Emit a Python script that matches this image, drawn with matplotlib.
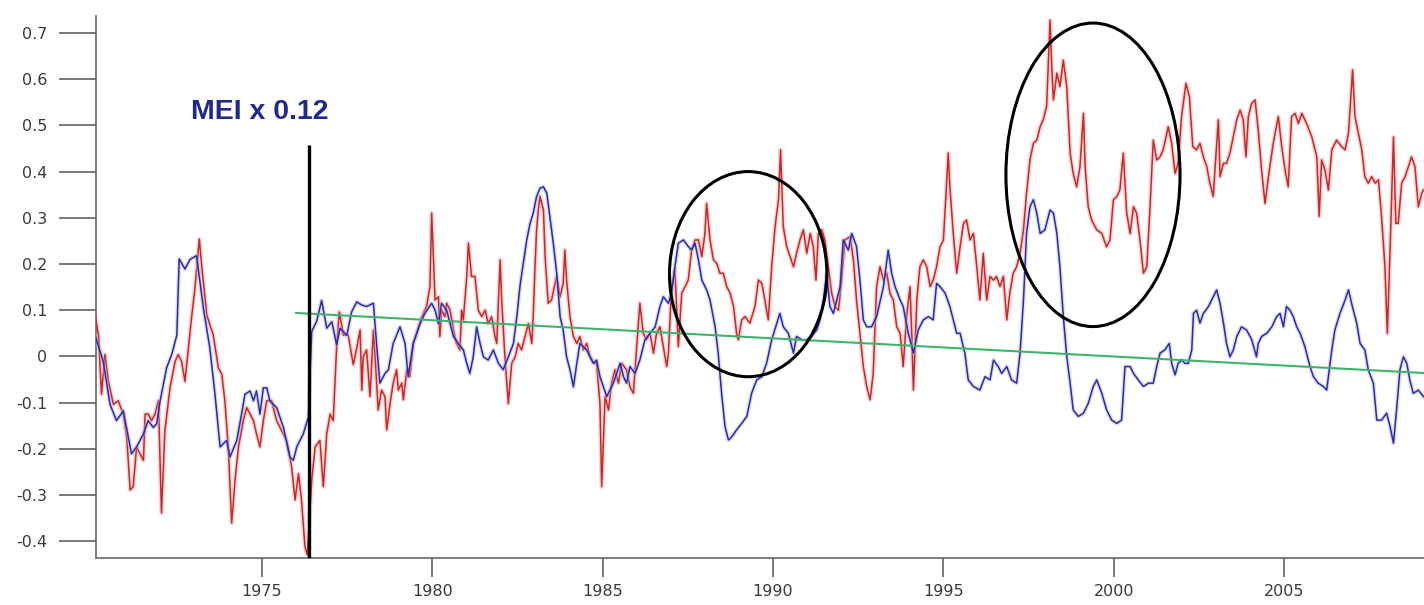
import matplotlib
matplotlib.use("Agg")
import matplotlib.pyplot as plt
from matplotlib.patches import Ellipse

# ---------------- data ----------------
red_years = [
    1970.10, 1970.20, 1970.29, 1970.39, 1970.49, 1970.64, 1970.78, 1970.93, 1971.03, 1971.13,
    1971.22, 1971.32, 1971.42, 1971.52, 1971.57, 1971.66, 1971.76, 1971.86, 1971.96, 1972.05,
    1972.15, 1972.30, 1972.45, 1972.54, 1972.64, 1972.74, 1972.84, 1972.94, 1973.03, 1973.16,
    1973.23, 1973.38, 1973.57, 1973.72, 1973.82, 1973.91, 1974.01, 1974.11, 1974.21, 1974.31,
    1974.45, 1974.55, 1974.65, 1974.75, 1974.84, 1974.94, 1975.04, 1975.14, 1975.28, 1975.43,
    1975.58, 1975.72, 1975.87, 1975.97, 1976.07, 1976.16, 1976.26, 1976.33, 1976.46, 1976.56,
    1976.70, 1976.80, 1976.90, 1977.00, 1977.09, 1977.19, 1977.27, 1977.39, 1977.53, 1977.68,
    1977.78,
    1977.88, 1977.93, 1977.97, 1978.07, 1978.17, 1978.27, 1978.32, 1978.41, 1978.51, 1978.61,
    1978.66, 1978.76, 1978.85, 1978.95, 1979.00, 1979.10, 1979.15, 1979.25, 1979.34, 1979.44,
    1979.54, 1979.69, 1979.83, 1979.93, 1979.98, 1980.03, 1980.08, 1980.18, 1980.22, 1980.27,
    1980.37, 1980.42, 1980.52, 1980.62, 1980.71, 1980.81, 1980.86, 1980.91, 1981.01, 1981.06,
    1981.15, 1981.25, 1981.35, 1981.45, 1981.55, 1981.64, 1981.74, 1981.84, 1981.89, 1981.99,
    1982.03, 1982.13, 1982.23, 1982.33, 1982.43, 1982.52, 1982.62, 1982.72, 1982.82, 1982.92,
    1982.96, 1983.01, 1983.06, 1983.11, 1983.16, 1983.26, 1983.31, 1983.40, 1983.50, 1983.60,
    1983.65, 1983.75, 1983.84, 1983.89, 1983.94, 1984.04, 1984.14, 1984.24, 1984.33, 1984.43,
    1984.53, 1984.63, 1984.73, 1984.82, 1984.92, 1984.97, 1985.07, 1985.17, 1985.26, 1985.36,
    1985.46, 1985.56, 1985.70,
    1985.80, 1985.90, 1986.00, 1986.09, 1986.19, 1986.29, 1986.39, 1986.49, 1986.58, 1986.68,
    1986.78, 1986.88, 1986.93, 1987.02, 1987.12, 1987.22, 1987.32, 1987.42, 1987.51, 1987.61,
    1987.71, 1987.81, 1987.91, 1988.00, 1988.05, 1988.15, 1988.25, 1988.35, 1988.44, 1988.54,
    1988.64, 1988.74, 1988.84, 1988.93, 1988.98, 1989.08, 1989.18, 1989.32, 1989.47, 1989.57,
    1989.67, 1989.76, 1989.86, 1989.96, 1990.06, 1990.16, 1990.22, 1990.30, 1990.40, 1990.50,
    1990.60, 1990.69, 1990.79, 1990.89, 1990.99, 1991.09, 1991.18, 1991.26, 1991.33, 1991.43,
    1991.52, 1991.62, 1991.72, 1991.82, 1991.92, 1992.01, 1992.11, 1992.26, 1992.36, 1992.45,
    1992.55, 1992.65, 1992.75, 1992.85, 1992.94, 1993.04, 1993.14, 1993.24, 1993.34, 1993.43,
    1993.53, 1993.63,
    1993.73, 1993.82, 1993.92, 1994.02, 1994.07, 1994.12, 1994.22, 1994.31, 1994.41, 1994.51,
    1994.61, 1994.70, 1994.80, 1994.90, 1995.00, 1995.10, 1995.14, 1995.19, 1995.29, 1995.39,
    1995.49, 1995.59, 1995.68, 1995.78, 1995.88, 1995.98, 1996.07, 1996.17, 1996.27, 1996.37,
    1996.47, 1996.56, 1996.66, 1996.76, 1996.86, 1996.95, 1997.05, 1997.15, 1997.25, 1997.35,
    1997.44, 1997.54, 1997.64, 1997.74, 1997.84, 1997.93, 1998.03, 1998.13, 1998.18, 1998.23,
    1998.33, 1998.42, 1998.52, 1998.62, 1998.72, 1998.81, 1998.91, 1999.01, 1999.11, 1999.16,
    1999.25, 1999.35, 1999.50, 1999.65, 1999.79, 1999.89, 1999.99, 2000.09, 2000.18, 2000.28,
    2000.38, 2000.48, 2000.58, 2000.67, 2000.77, 2000.87, 2000.97, 2001.06, 2001.16, 2001.26,
    2001.36, 2001.45, 2001.60, 2001.70, 2001.80, 2001.89, 2001.99, 2002.12, 2002.22, 2002.32,
    2002.43, 2002.53, 2002.63, 2002.73, 2002.82, 2002.92, 2002.97, 2003.07, 2003.12, 2003.22,
    2003.31, 2003.41, 2003.51, 2003.61, 2003.71, 2003.80, 2003.88, 2003.95, 2004.05, 2004.15,
    2004.24, 2004.34, 2004.44, 2004.54, 2004.68, 2004.83, 2004.93, 2005.03, 2005.12, 2005.22,
    2005.32, 2005.42, 2005.52, 2005.66, 2005.81, 2005.96, 2006.03, 2006.10, 2006.20, 2006.30,
    2006.40, 2006.54, 2006.69, 2006.79, 2006.89, 2007.01, 2007.08, 2007.18, 2007.28, 2007.37,
    2007.47, 2007.57, 2007.67, 2007.77, 2007.86, 2007.96, 2008.03, 2008.11, 2008.21, 2008.28,
    2008.35, 2008.45, 2008.55, 2008.65, 2008.74, 2008.84, 2008.94, 2009.04, 2009.09,
]
red_vals = [
    0.089, 0.046, -0.082, 0.004, -0.054, -0.104, -0.096, -0.125, -0.175, -0.289,
    -0.282, -0.196, -0.211, -0.225, -0.125, -0.125, -0.139, -0.125, -0.096, -0.339,
    -0.161, -0.068, -0.011, 0.004, -0.011, -0.054, 0.018, 0.089, 0.146, 0.254,
    0.196, 0.089, 0.046, -0.025, -0.039, -0.096, -0.196, -0.361, -0.268, -0.196,
    -0.139, -0.111, -0.125, -0.139, -0.168, -0.196, -0.139, -0.096, -0.096, -0.139,
    -0.161, -0.182, -0.239, -0.311, -0.254, -0.311, -0.411, -0.430, -0.268, -0.196,
    -0.182, -0.282, -0.168, -0.125, -0.139, 0.018, 0.096, 0.046, 0.046, -0.018,
    0.018,
    0.057, -0.073, -0.001, 0.014, -0.087, 0.057, -0.001, -0.116, -0.073, -0.087,
    -0.159, -0.102, -0.058, -0.029, -0.073, -0.058, -0.094, -0.029, -0.044, 0.028,
    0.050, 0.086, 0.108, 0.151, 0.310, 0.216, 0.122, 0.129, 0.043, 0.100,
    0.086, 0.115, 0.100, 0.057, 0.028, 0.014, 0.100, 0.079, 0.173, 0.245,
    0.173, 0.173, 0.100, 0.086, 0.100, 0.071, 0.086, 0.043, 0.028, 0.209,
    0.129, -0.001, -0.102, -0.015, -0.001, 0.028, 0.014, 0.043, 0.071, 0.028,
    0.086, 0.187, 0.274, 0.317, 0.346, 0.317, 0.216, 0.115, 0.122, 0.158,
    0.173, 0.129, 0.158, 0.230, 0.165, 0.086, 0.043, 0.028, 0.043, 0.014,
    0.028, -0.001, -0.015, -0.015, -0.102, -0.282, -0.087, -0.116, -0.058, -0.029,
    -0.058, -0.015, -0.029,
    -0.066, -0.080, 0.021, 0.115, 0.050, 0.036, 0.050, 0.007, 0.050, 0.064,
    0.021, -0.022, 0.007, 0.151, 0.187, 0.021, 0.137, 0.151, 0.165, 0.230,
    0.252, 0.252, 0.216, 0.266, 0.331, 0.252, 0.209, 0.201, 0.180, 0.180,
    0.151, 0.137, 0.108, 0.050, 0.036, 0.079, 0.086, 0.072, 0.108, 0.165,
    0.158, 0.122, 0.079, 0.194, 0.281, 0.339, 0.447, 0.281, 0.238, 0.216,
    0.194, 0.223, 0.252, 0.274, 0.223, 0.266, 0.238, 0.165, 0.266, 0.274,
    0.252, 0.194, 0.137, 0.108, 0.100, 0.165, 0.252, 0.259, 0.209, 0.122,
    0.050, -0.022, -0.066, -0.094, -0.037, 0.151, 0.194, 0.165, 0.180, 0.137,
    0.122, 0.064,
    0.050, -0.022, 0.086, 0.151, 0.050, -0.073, 0.122, 0.194, 0.209, 0.194,
    0.151, 0.165, 0.194, 0.237, 0.252, 0.382, 0.440, 0.367, 0.266, 0.180,
    0.237, 0.288, 0.295, 0.252, 0.266, 0.194, 0.122, 0.223, 0.122, 0.173,
    0.165, 0.173, 0.151, 0.173, 0.079, 0.137, 0.180, 0.194, 0.223, 0.274,
    0.353, 0.425, 0.461, 0.468, 0.497, 0.512, 0.541, 0.728, 0.627, 0.555,
    0.613, 0.584, 0.641, 0.584, 0.440, 0.396, 0.367, 0.411, 0.526, 0.411,
    0.324, 0.295, 0.274, 0.266, 0.237, 0.252, 0.339, 0.346, 0.360, 0.440,
    0.310, 0.266, 0.324, 0.310, 0.252, 0.180, 0.194, 0.317, 0.468, 0.425,
    0.432, 0.447, 0.497, 0.461, 0.396, 0.418, 0.519, 0.591, 0.562, 0.454,
    0.447, 0.461, 0.432, 0.411, 0.375, 0.346, 0.403, 0.512, 0.389, 0.418,
    0.418, 0.440, 0.476, 0.512, 0.533, 0.512, 0.432, 0.519, 0.548, 0.555,
    0.490, 0.403, 0.331, 0.389, 0.461, 0.519, 0.454, 0.403, 0.367, 0.519,
    0.526, 0.504, 0.526, 0.504, 0.476, 0.432, 0.303, 0.425, 0.403, 0.360,
    0.447, 0.468, 0.454, 0.447, 0.483, 0.620, 0.519, 0.483, 0.447, 0.389,
    0.375, 0.389, 0.375, 0.382, 0.303, 0.194, 0.050, 0.230, 0.475, 0.288,
    0.288, 0.375, 0.389, 0.411, 0.432, 0.411, 0.324, 0.353, 0.360,
]

blue_years = [
    1970.10, 1970.34, 1970.54, 1970.73, 1970.93, 1971.17, 1971.32, 1971.52, 1971.66, 1971.81,
    1971.91, 1972.01, 1972.20, 1972.35, 1972.50, 1972.57, 1972.74, 1972.89, 1973.08, 1973.28,
    1973.47, 1973.62, 1973.77, 1973.96, 1974.06, 1974.26, 1974.40, 1974.50, 1974.65, 1974.75,
    1974.84, 1974.94, 1975.04, 1975.14, 1975.23, 1975.43, 1975.63, 1975.82, 1975.92, 1976.02,
    1976.21, 1976.36, 1976.46, 1976.60, 1976.75, 1976.90, 1977.05, 1977.19, 1977.29, 1977.49,
    1977.63, 1977.78, 1977.93,
    1978.07, 1978.27, 1978.37, 1978.46, 1978.61, 1978.71, 1978.85, 1979.05, 1979.20, 1979.29,
    1979.44, 1979.64, 1979.78, 1979.98, 1980.08, 1980.18, 1980.27, 1980.42, 1980.52, 1980.62,
    1980.76, 1980.91, 1981.01, 1981.10, 1981.20, 1981.30, 1981.40, 1981.50, 1981.64, 1981.79,
    1981.94, 1982.08, 1982.23, 1982.38, 1982.48, 1982.57, 1982.67, 1982.77, 1982.87, 1982.96,
    1983.06, 1983.16, 1983.26, 1983.36, 1983.45, 1983.55, 1983.65, 1983.75, 1983.84, 1983.94,
    1984.04, 1984.14, 1984.24, 1984.33, 1984.43, 1984.53, 1984.63, 1984.73, 1984.82, 1984.92,
    1985.02, 1985.12, 1985.21, 1985.31, 1985.41, 1985.51, 1985.61, 1985.70, 1985.80, 1985.95,
    1986.09, 1986.24, 1986.39, 1986.54, 1986.68, 1986.78, 1986.93, 1987.02, 1987.12, 1987.22,
    1987.37, 1987.51, 1987.61, 1987.71, 1987.81, 1987.91, 1988.05, 1988.15, 1988.30, 1988.39,
    1988.49, 1988.59, 1988.69, 1988.79, 1988.93, 1989.08, 1989.23, 1989.37, 1989.52, 1989.67,
    1989.81, 1989.96, 1990.11, 1990.20, 1990.30, 1990.45, 1990.60, 1990.69, 1990.84, 1990.99,
    1991.13, 1991.28, 1991.38, 1991.48, 1991.57, 1991.67, 1991.77, 1991.87, 1991.97, 1992.06,
    1992.21, 1992.31, 1992.45, 1992.55, 1992.65, 1992.75, 1992.89, 1993.04, 1993.24, 1993.38,
    1993.48, 1993.58, 1993.73, 1993.82, 1993.97, 1994.12, 1994.26, 1994.41, 1994.56, 1994.70,
    1994.80, 1994.90, 1995.05, 1995.19, 1995.29, 1995.39, 1995.49, 1995.63, 1995.73, 1995.88,
    1996.07, 1996.22, 1996.37, 1996.47, 1996.61, 1996.71, 1996.86, 1997.00, 1997.15, 1997.25,
    1997.35, 1997.44, 1997.54, 1997.64, 1997.74, 1997.84, 1997.98, 1998.13, 1998.23, 1998.33,
    1998.42, 1998.52, 1998.62, 1998.72, 1998.81, 1998.96, 1999.11, 1999.25, 1999.40, 1999.50,
    1999.65, 1999.79, 1999.94, 2000.09, 2000.23, 2000.33, 2000.48, 2000.58, 2000.72, 2000.87,
    2001.02, 2001.16, 2001.26, 2001.36, 2001.50, 2001.63, 2001.70, 2001.80, 2001.89, 2001.99,
    2002.09, 2002.19, 2002.29, 2002.34, 2002.43, 2002.53, 2002.63, 2002.78, 2002.92, 2003.02,
    2003.12, 2003.22, 2003.31, 2003.41, 2003.51, 2003.61, 2003.75, 2003.90, 2004.05, 2004.19,
    2004.24, 2004.34, 2004.49, 2004.64, 2004.78, 2004.88, 2004.98, 2005.07, 2005.17, 2005.27,
    2005.37, 2005.47, 2005.61, 2005.76, 2005.86, 2006.00, 2006.15, 2006.25, 2006.30, 2006.40,
    2006.49, 2006.64, 2006.79, 2006.89, 2006.98, 2007.13, 2007.23, 2007.37, 2007.47, 2007.62,
    2007.72, 2007.86, 2008.01, 2008.11, 2008.21, 2008.30, 2008.40, 2008.50, 2008.60, 2008.69,
    2008.79, 2008.94, 2009.09,
]
blue_vals = [
    0.046, -0.011, -0.104, -0.139, -0.118, -0.211, -0.196, -0.168, -0.139, -0.154,
    -0.146, -0.096, -0.025, 0.004, 0.046, 0.211, 0.189, 0.210, 0.218, 0.104,
    0.018, -0.082, -0.196, -0.182, -0.218, -0.182, -0.125, -0.082, -0.075, -0.096,
    -0.075, -0.125, -0.068, -0.068, -0.096, -0.111, -0.154, -0.218, -0.225, -0.196,
    -0.168, -0.132, 0.054, 0.075, 0.121, 0.061, 0.075, 0.025, 0.061, 0.046,
    0.096, 0.118, 0.111,
    0.108, 0.115, 0.021, -0.058, -0.037, -0.029, 0.028, 0.064, 0.028, -0.044,
    0.028, 0.071, 0.093, 0.115, 0.100, 0.071, 0.115, 0.100, 0.071, 0.043,
    0.028, 0.014, -0.015, -0.037, -0.001, 0.064, 0.028, -0.001, -0.008, 0.014,
    -0.015, -0.029, -0.001, 0.028, 0.086, 0.151, 0.201, 0.252, 0.288, 0.310,
    0.346, 0.364, 0.367, 0.353, 0.302, 0.245, 0.180, 0.086, 0.057, -0.001,
    -0.029, -0.066, -0.015, 0.028, 0.021, 0.014, -0.001, -0.015, -0.008, -0.044,
    -0.066, -0.087, -0.073, -0.058, -0.037, -0.015, -0.044, -0.058, -0.022, -0.037,
    -0.008, 0.036, 0.050, 0.064, 0.108, 0.129, 0.115, 0.137, 0.194, 0.245,
    0.252, 0.238, 0.230, 0.245, 0.209, 0.165, 0.144, 0.122, 0.064, 0.007,
    -0.080, -0.152, -0.181, -0.174, -0.159, -0.145, -0.130, -0.080, -0.051, -0.044,
    -0.015, 0.036, 0.072, 0.093, 0.064, 0.050, 0.007, 0.043, 0.036, 0.036,
    0.043, 0.057, 0.079, 0.122, 0.180, 0.108, 0.093, 0.122, 0.151, 0.252,
    0.230, 0.266, 0.238, 0.165, 0.079, 0.064, 0.064, 0.086, 0.151, 0.230,
    0.180, 0.151, 0.122, 0.108, 0.050, 0.007, 0.057, 0.079, 0.086, 0.079,
    0.158, 0.151, 0.137, 0.108, 0.079, 0.050, 0.050, 0.007, -0.051, -0.065,
    -0.073, -0.044, -0.051, -0.008, -0.022, -0.037, -0.022, -0.051, -0.058, 0.007,
    0.122, 0.266, 0.324, 0.339, 0.310, 0.266, 0.274, 0.317, 0.310, 0.266,
    0.194, 0.086, 0.000, -0.058, -0.116, -0.130, -0.123, -0.102, -0.065, -0.051,
    -0.080, -0.116, -0.138, -0.145, -0.138, -0.022, -0.022, -0.037, -0.051, -0.065,
    -0.058, -0.058, -0.022, 0.007, 0.014, 0.028, -0.015, -0.040, -0.015, -0.008,
    -0.015, -0.015, 0.014, 0.093, 0.100, 0.072, 0.093, 0.108, 0.129, 0.144,
    0.115, 0.072, 0.028, -0.001, 0.014, 0.043, 0.064, 0.057, 0.036, -0.001,
    0.028, 0.043, 0.050, 0.064, 0.086, 0.093, 0.064, 0.108, 0.100, 0.086,
    0.064, 0.050, 0.021, -0.022, -0.044, -0.058, -0.065, -0.073, -0.044, 0.014,
    0.057, 0.093, 0.122, 0.144, 0.115, 0.072, 0.028, 0.014, -0.029, -0.058,
    -0.138, -0.138, -0.123, -0.152, -0.188, -0.116, -0.029, -0.001, -0.015, -0.051,
    -0.080, -0.073, -0.087,
]

trend_years = [1976.0, 2009.1]
trend_vals = [0.094, -0.036]

x_ticks = [1975, 1980, 1985, 1990, 1995, 2000, 2005]
y_ticks = [-0.4, -0.3, -0.2, -0.1, 0.0, 0.1, 0.2, 0.3, 0.4, 0.5, 0.6, 0.7]
y_labels = ["-0.4", "-0.3", "-0.2", "-0.1", "0", "0.1", "0.2", "0.3", "0.4", "0.5", "0.6", "0.7"]
label_text = "MEI x 0.12"

# ---------------- figure ----------------
W, H, DPI = 1424, 605, 100
fig = plt.figure(figsize=(W / DPI, H / DPI), dpi=DPI)
ax = fig.add_axes([96 / W, (H - 558) / H, (W - 96) / W, (558 - 15.7) / H])
ax.set_xlim(1970.128, 2009.106)
ax.set_ylim(-0.4364, 0.7374)

# red series with soft halo
ax.plot(red_years, red_vals, color="#f0a8a8", lw=3.2, alpha=0.5, zorder=2)
ax.plot(red_years, red_vals, color="#c42a2a", lw=1.1, zorder=3)
# blue series with soft halo
ax.plot(blue_years, blue_vals, color="#b0b0ea", lw=3.0, alpha=0.45, zorder=4)
ax.plot(blue_years, blue_vals, color="#2c2ca0", lw=1.1, zorder=5)

# trend line
ax.plot(trend_years, trend_vals, color="#3db36a", lw=1.5, zorder=6)

# vertical marker
ax.vlines(1976.39, -0.4364, 0.458, color="black", lw=2.4, zorder=7)

# ellipses
ax.add_patch(Ellipse((1989.27, 0.178), 4.62, 0.444, fill=False, ec="black", lw=2.2, zorder=8))
ax.add_patch(Ellipse((1999.39, 0.393), 5.11, 0.657, fill=False, ec="black", lw=2.2, zorder=8))

# annotation text
ax.text(1974.94, 0.53, label_text, color="#1f2a8c", fontsize=20.5, fontweight="bold",
        family=["Liberation Sans", "DejaVu Sans"], ha="center", va="center", zorder=9)

# axes styling
for s in ["top", "right"]:
    ax.spines[s].set_visible(False)
for s in ["left", "bottom"]:
    ax.spines[s].set_color("#666666")
    ax.spines[s].set_linewidth(1.2)

ax.set_xticks(x_ticks)
ax.set_xticklabels([str(t) for t in x_ticks])
ax.set_yticks(y_ticks)
ax.set_yticklabels(y_labels)
ax.tick_params(axis="y", direction="out", length=27, width=1.1, color="#555555",
               pad=8, labelsize=11.5, labelcolor="#3a3a3a")
ax.tick_params(axis="x", direction="out", length=14, width=1.1, color="#555555",
               pad=5, labelsize=11.5, labelcolor="#3a3a3a")

fig.savefig("out.png", dpi=DPI)
